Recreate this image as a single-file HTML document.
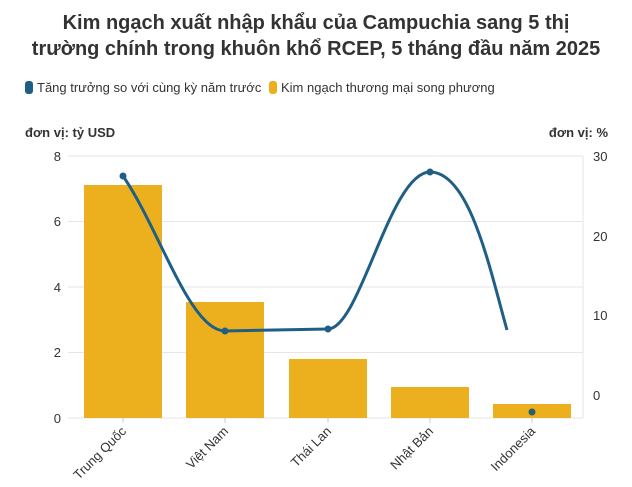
<!DOCTYPE html>
<html><head><meta charset="utf-8"><style>
body{margin:0;background:#fff;width:632px;height:482px;overflow:hidden;font-family:"Liberation Sans","DejaVu Sans",sans-serif}
</style></head><body>
<svg width="632" height="482" xmlns="http://www.w3.org/2000/svg" font-family="Liberation Sans, DejaVu Sans, sans-serif">
<text x="316" y="29" text-anchor="middle" font-size="20" font-weight="bold" fill="#333">Kim ngạch xuất nhập khẩu của Campuchia sang 5 thị</text>
<text x="316" y="55" text-anchor="middle" font-size="20" font-weight="bold" fill="#333">trường chính trong khuôn khổ RCEP, 5 tháng đầu năm 2025</text>
<rect x="25" y="81" width="8" height="13" rx="3" fill="#1f5f85"/>
<text x="37" y="92" font-size="13" fill="#333">Tăng trưởng so với cùng kỳ năm trước</text>
<rect x="269" y="81" width="8" height="13" rx="3" fill="#ecb01e"/>
<text x="281" y="92" font-size="13" fill="#333">Kim ngạch thương mại song phương</text>
<text x="25" y="137" font-size="13" font-weight="bold" fill="#333">đơn vị: tỷ USD</text>
<text x="608" y="137" text-anchor="end" font-size="13" font-weight="bold" fill="#333">đơn vị: %</text>
<g stroke="#e6e6e6" stroke-width="1">
<line x1="68" x2="583" y1="156" y2="156"/><line x1="68" x2="583" y1="221.5" y2="221.5"/>
<line x1="68" x2="583" y1="287" y2="287"/><line x1="68" x2="583" y1="352.5" y2="352.5"/>
<line x1="68" x2="583" y1="418" y2="418"/><line x1="583" x2="583" y1="156" y2="418"/>
<line x1="583" x2="583" y1="236" y2="236"/>
</g>
<g font-size="13" fill="#333" text-anchor="end">
<text x="61" y="161">8</text><text x="61" y="226">6</text><text x="61" y="292">4</text><text x="61" y="357">2</text><text x="61" y="423">0</text>
</g>
<g font-size="13" fill="#333">
<text x="593" y="161">30</text><text x="593" y="241">20</text><text x="593" y="320">10</text><text x="593" y="400">0</text>
</g>
<g fill="#ecb01e">
<rect x="84" y="185" width="78" height="233"/>
<rect x="186" y="302" width="78" height="116"/>
<rect x="289" y="359" width="78" height="59"/>
<rect x="391" y="387" width="78" height="31"/>
<rect x="493" y="404" width="78" height="14"/>
</g>
<path d="M123,176 C160,230 190,331 225,331 L328,329 C360,329 390,172 430,172 C470,172 490,270 507,330" fill="none" stroke="#1f5f85" stroke-width="3"/>
<g fill="#1f5f85">
<circle cx="123" cy="176" r="3.5"/><circle cx="225" cy="331" r="3.5"/><circle cx="328" cy="329" r="3.5"/><circle cx="430" cy="172" r="3.5"/><circle cx="532" cy="412" r="3.5" fill="#2a5e6a"/>
</g>
<g stroke="#ccc"><line x1="123" x2="123" y1="418" y2="423"/><line x1="225" x2="225" y1="418" y2="423"/><line x1="328" x2="328" y1="418" y2="423"/><line x1="430" x2="430" y1="418" y2="423"/><line x1="532" x2="532" y1="418" y2="423"/></g>
<g font-size="13" fill="#333" text-anchor="end">
<text transform="translate(127,432) rotate(-45)">Trung Quốc</text>
<text transform="translate(229,432) rotate(-45)">Việt Nam</text>
<text transform="translate(332,432) rotate(-45)">Thái Lan</text>
<text transform="translate(434,432) rotate(-45)">Nhật Bản</text>
<text transform="translate(536,432) rotate(-45)">Indonesia</text>
</g>
</svg>
</body></html>
